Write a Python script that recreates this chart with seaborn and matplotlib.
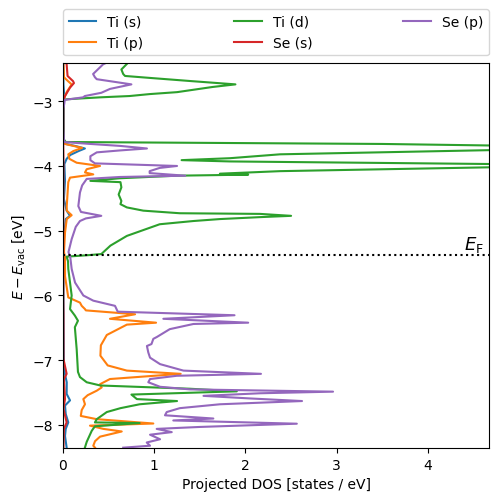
import matplotlib
matplotlib.use("Agg")
import matplotlib.pyplot as plt
import seaborn as sns

# Fermi level and plot window (eV)
fermi_level = -5.377
energy_window = (-8.355, -2.41)
dos_window = (0, 4.67)

labels = ["Ti (s)", "Ti (p)", "Ti (d)", "Se (s)", "Se (p)"]
colors = ["tab:blue", "tab:orange", "tab:green", "tab:red", "tab:purple"]

# projected DOS, (energy, dos) per orbital
ti_s_energy = [-2.41, -2.74, -2.87, -2.97, -3.63, -3.66, -3.69, -3.73, -3.77, -3.83, -3.89, -3.97,
               -4.23, -4.51, -4.69, -4.77, -4.82, -5.13, -5.38, -6.06, -7.14, -7.34, -7.52, -7.62,
               -7.70, -7.83, -7.96, -8.06, -8.17, -8.35]
ti_s_dos = [0.003, 0.005, 0.011, 0.003, 0.005, 0.03, 0.13, 0.24, 0.17, 0.08, 0.04, 0.015,
            0.022, 0.01, 0.04, 0.077, 0.03, 0.01, 0.005, 0.005, 0.01, 0.041, 0.04, 0.077,
            0.022, 0.03, 0.058, 0.03, 0.022, 0.04]

ti_p_energy = [-2.41, -2.63, -2.69, -2.74, -2.78, -2.85, -2.92, -2.97, -3.12, -3.43, -3.59, -3.63,
               -3.66, -3.69, -3.72, -3.77, -3.82, -3.89, -3.95, -4.00, -4.05, -4.10, -4.13, -4.18,
               -4.25, -4.62, -4.69, -4.76, -4.82, -5.03, -5.33, -5.41, -5.70, -6.03, -6.11, -6.16,
               -6.21, -6.23, -6.29, -6.36, -6.42, -6.45, -6.61, -6.77, -6.93, -7.08, -7.16, -7.21,
               -7.29, -7.37, -7.42, -7.47, -7.54, -7.60, -7.68, -7.77, -7.86, -7.91, -7.977, -8.01,
               -8.06, -8.10, -8.18, -8.25, -8.32, -8.35]
ti_p_dos = [0.005, 0.011, 0.055, 0.095, 0.077, 0.044, 0.022, 0.005, 0.003, 0.003, 0.005, 0.01,
            0.022, 0.113, 0.21, 0.113, 0.058, 0.07, 0.15, 0.406, 0.26, 0.241, 0.332, 0.077,
            0.058, 0.041, 0.041, 0.095, 0.041, 0.022, 0.011, 0.022, 0.022, 0.058, 0.186, 0.205,
            0.241, 0.25, 0.79, 0.515, 1.02, 0.70, 0.48, 0.415, 0.41, 0.49, 0.70, 1.29,
            0.515, 0.406, 0.424, 0.37, 0.27, 0.223, 0.241, 0.205, 0.195, 0.37, 0.99, 0.296,
            0.442, 0.644, 0.406, 0.351, 0.332, 0.351]

ti_d_energy = [-2.41, -2.51, -2.58, -2.61, -2.64, -2.69, -2.74, -2.78, -2.86, -2.89, -2.92, -2.94,
               -2.97, -2.98, -3.12, -3.43, -3.59, -3.63, -3.66, -3.69, -3.73, -3.755, -3.82, -3.88,
               -3.91, -3.93, -3.97, -4.00, -4.02, -4.08, -4.119, -4.134, -4.15, -4.19, -4.23, -4.25,
               -4.33, -4.44, -4.54, -4.59, -4.64, -4.69, -4.73, -4.74, -4.77, -4.79, -4.82, -4.85,
               -4.90, -5.08, -5.23, -5.36, -5.375, -5.40, -5.47, -5.59, -6.00, -6.21, -6.31, -6.39,
               -6.49, -6.83, -7.18, -7.26, -7.34, -7.39, -7.44, -7.48, -7.53, -7.60, -7.63, -7.68,
               -7.74, -7.80, -7.91, -7.96, -7.97, -8.02, -8.09, -8.26, -8.35]
ti_d_dos = [0.71, 0.64, 0.66, 0.68, 0.95, 1.41, 1.89, 1.64, 1.25, 0.95, 0.73, 0.41,
            0.04, 0.01, 0.01, 0.01, 0.01, 0.03, 3.5, 5.0, 9.0, 4.7, 2.38, 1.83,
            1.30, 1.83, 4.7, 8.0, 4.7, 2.38, 1.72, 2.03, 1.25, 0.62, 0.30, 0.63,
            0.64, 0.61, 0.64, 0.63, 0.70, 0.88, 1.28, 2.16, 2.50, 2.16, 1.72, 1.43,
            1.06, 0.70, 0.52, 0.42, 0.30, 0.04, 0.055, 0.058, 0.095, 0.077, 0.13, 0.164,
            0.13, 0.15, 0.164, 0.186, 0.26, 0.41, 1.39, 1.905, 0.75, 0.81, 1.25, 0.84,
            0.63, 0.48, 0.37, 0.35, 0.84, 0.35, 0.315, 0.26, 0.24]

se_s_energy = [-2.41, -2.43, -2.61, -2.69, -2.72, -2.79, -2.92, -3.00, -3.66, -3.89, -4.71, -6.06,
               -6.29, -6.98, -7.21, -7.29, -7.60, -7.75, -7.96, -8.06, -8.35]
se_s_dos = [0.033, 0.04, 0.05, 0.11, 0.12, 0.077, 0.022, 0.003, 0.003, 0.005, 0.003, 0.003,
            0.005, 0.005, 0.04, 0.01, 0.022, 0.005, 0.04, 0.01, 0.005]

se_p_energy = [-2.41, -2.43, -2.58, -2.63, -2.66, -2.74, -2.81, -2.87, -2.92, -2.94, -2.98, -3.12,
               -3.43, -3.59, -3.63, -3.66, -3.69, -3.73, -3.76, -3.79, -3.85, -3.91, -3.96, -4.00,
               -4.03, -4.08, -4.11, -4.15, -4.17, -4.20, -4.30, -4.41, -4.62, -4.71, -4.77, -4.81,
               -4.85, -4.94, -5.13, -5.33, -5.41, -5.59, -5.80, -6.00, -6.08, -6.16, -6.25, -6.305,
               -6.36, -6.42, -6.44, -6.52, -6.64, -6.67, -6.75, -6.78, -6.88, -6.96, -7.06, -7.16,
               -7.21, -7.24, -7.29, -7.34, -7.41, -7.45, -7.485, -7.51, -7.55, -7.59, -7.63, -7.68,
               -7.74, -7.80, -7.85, -7.90, -7.93, -7.98, -8.03, -8.06, -8.11, -8.15, -8.22, -8.27,
               -8.32, -8.35]
se_p_dos = [0.47, 0.44, 0.33, 0.35, 0.37, 0.75, 0.515, 0.42, 0.24, 0.22, 0.02, 0.005,
            0.005, 0.01, 0.01, 0.30, 0.625, 0.92, 0.625, 0.37, 0.30, 0.30, 0.35, 1.25,
            1.06, 0.95, 0.95, 1.34, 0.625, 0.26, 0.21, 0.186, 0.168, 0.197, 0.42, 0.25,
            0.186, 0.14, 0.095, 0.06, 0.08, 0.095, 0.132, 0.223, 0.332, 0.57, 0.60, 1.88,
            1.10, 2.03, 1.43, 1.17, 1.03, 0.99, 0.97, 0.92, 0.935, 0.954, 1.064, 1.32,
            2.17, 1.247, 0.954, 0.935, 1.064, 1.393, 2.96, 2.16, 1.54, 2.05, 2.62, 1.72,
            1.28, 1.137, 1.118, 1.648, 1.209, 2.563, 1.50, 1.027, 1.192, 0.954, 1.064, 0.918,
            0.954, 0.66]

energies = [ti_s_energy, ti_p_energy, ti_d_energy, se_s_energy, se_p_energy]
doses = [ti_s_dos, ti_p_dos, ti_d_dos, se_s_dos, se_p_dos]

fig, ax = plt.subplots(figsize=(4.98, 5.02), dpi=100)
fig.subplots_adjust(left=0.1265, right=0.982, bottom=0.1056, top=0.8725)

# one line per orbital, DOS on x and energy on y
for energy, dos, label, color in zip(energies, doses, labels, colors):
    sns.lineplot(x=dos, y=energy, orient="y", sort=False, estimator=None,
                 color=color, label=label, linewidth=1.5, ax=ax)

ax.axhline(fermi_level, color="k", linestyle=":", linewidth=1.5)
ax.text(0.988, fermi_level + 0.02, r"$E_\mathrm{F}$", transform=ax.get_yaxis_transform(),
        ha="right", va="bottom", fontsize=13)

ax.set_xlim(*dos_window)
ax.set_ylim(*energy_window)
ax.set_xlabel("Projected DOS [states / eV]")
ax.set_ylabel(r"$E - E_\mathrm{vac}$ [eV]")

ax.legend(loc="lower left", bbox_to_anchor=(0, 1.02, 1, 0.2), mode="expand",
          borderaxespad=0, ncol=3)

fig.savefig("out.png", dpi=100)
